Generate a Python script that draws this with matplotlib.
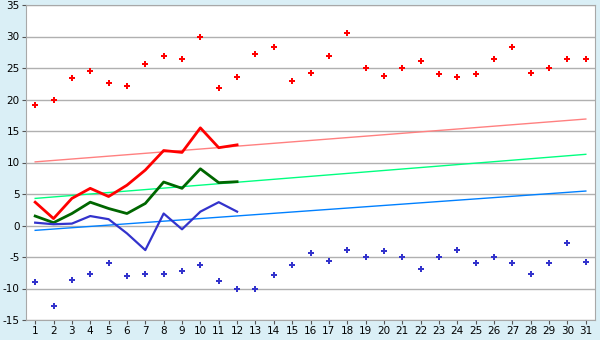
import numpy as np
import matplotlib.pyplot as plt

plt.rcParams['axes.unicode_minus'] = False

days = list(range(1, 32))

# upper / lower scatter points
red_pts = [19.1, 20.0, 23.4, 24.5, 22.6, 22.1, 25.6, 26.9, 26.5, 29.9,
           21.9, 23.5, 27.3, 28.3, 23.0, 24.2, 26.9, 30.5, 24.95, 23.8,
           24.95, 26.1, 24.0, 23.5, 24.0, 26.5, 28.4, 24.2, 24.95, 26.4, 26.4]
blue_pts = [-9.0, -12.8, -8.7, -7.75, -6.0, -8.07, -7.75, -7.75, -7.27, -6.3,
            -8.87, -10.0, -10.0, -7.9, -6.3, -4.4, -5.7, -3.9, -5.05, -4.1,
            -5.05, -6.95, -5.05, -3.9, -6.0, -5.05, -6.0, -7.75, -6.0, -2.8, -5.85]

# lines for first 12 days
line_days = list(range(1, 13))
red_line = [3.7, 1.1, 4.3, 5.9, 4.6, 6.4, 8.8, 11.9, 11.6, 15.5, 12.35, 12.8]
green_line = [1.5, 0.45, 1.9, 3.7, 2.7, 1.9, 3.5, 6.9, 5.9, 9.0, 6.8, 6.95]
blue_line = [0.45, 0.2, 0.3, 1.5, 1.0, -1.25, -3.9, 1.9, -0.6, 2.2, 3.7, 2.2]

# trend lines (start/end)
trend_x = [1, 31]
trend_red = [10.1, 16.9]
trend_green = [4.3, 11.3]
trend_blue = [-0.77, 5.47]

fig = plt.figure(figsize=(6, 3.4), dpi=100, facecolor='#daeff6')
ax = fig.add_axes([26/600, 20/340, 569/600, 315/340])
ax.set_facecolor('white')

ax.plot(trend_x, trend_red, color='#ff8080', lw=1)
ax.plot(trend_x, trend_green, color='#00ff80', lw=1)
ax.plot(trend_x, trend_blue, color='#0080ff', lw=1)

ax.plot(line_days, red_line, color='#ff0000', lw=2)
ax.plot(line_days, green_line, color='#006600', lw=2)
ax.plot(line_days, blue_line, color='#3333cc', lw=1.6)

ax.plot(days, red_pts, 'P', color='#ff0000', ms=5, mew=0)
ax.plot(days, blue_pts, 'P', color='#3333cc', ms=5, mew=0)

ax.set_xlim(0.5, 31.5)
ax.set_ylim(-15, 35)
ax.set_xticks(days)
ax.set_yticks(np.arange(-15, 36, 5))
ax.grid(True, axis='y', color='#b0b0b0', lw=1)
ax.set_axisbelow(True)
for s in ax.spines.values():
    s.set_color('#a8a8a8')
ax.tick_params(colors='#555555', labelcolor='black', labelsize=7.5, length=3, pad=1.5)

fig.savefig('out.png', dpi=100, facecolor=fig.get_facecolor())
